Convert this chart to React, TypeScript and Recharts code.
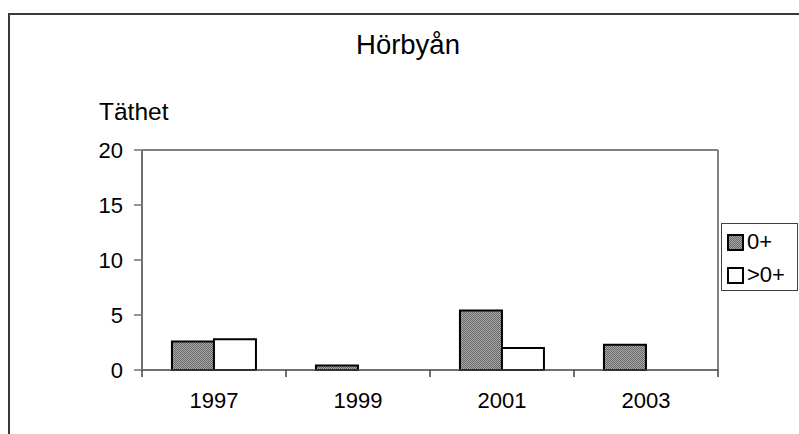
import React from 'react';
import { BarChart, Bar, XAxis, YAxis, ReferenceLine } from 'recharts';

const years = ['1997', '1999', '2001', '2003'];
const age0 = [2.6, 0.4, 5.4, 2.3];
const ageOlder = [2.8, 0, 2.0, 0];
const yTicks = [0, 5, 10, 15, 20];
const seriesNames = ['0+', '>0+'];
const title = 'Hörbyån';
const yLabel = 'Täthet';

const data = years.map((y, i) => ({ year: y, a: age0[i], b: ageOlder[i] }));

const FONT = "Arial, 'Liberation Sans', sans-serif";

const XTick = (props: any) => {
  const { x, y, payload, index, visibleTicksCount } = props;
  const off = payload && payload.offset ? payload.offset : 72;
  const last = index === (visibleTicksCount ?? years.length) - 1;
  return (
    <g>
      <line x1={x - off} x2={x - off} y1={y - 7} y2={y} stroke="#404040" strokeWidth={1.5} />
      {last && <line x1={x + off} x2={x + off} y1={y - 7} y2={y} stroke="#404040" strokeWidth={1.5} />}
      <text x={x} y={y + 31} textAnchor="middle" fontSize={22} fontFamily={FONT} fill="#000">
        {payload.value}
      </text>
    </g>
  );
};

const LegendBox = () => (
  <div
    style={{
      position: 'absolute',
      left: 721,
      top: 223,
      width: 77,
      height: 68,
      border: '1.5px solid #404040',
      background: '#fff',
      boxSizing: 'border-box',
      fontFamily: FONT,
      fontSize: 22,
    }}
  >
    {seriesNames.map((n, i) => (
      <div key={n} style={{ position: 'absolute', left: 5, top: 6 + i * 33, height: 24, display: 'flex', alignItems: 'center' }}>
        <svg width={17} height={17} style={{ marginRight: 3 }}>
          <rect x={1} y={1} width={15} height={15} fill={i === 0 ? 'url(#hatchLeg)' : '#fff'} stroke="#000" strokeWidth={2} />
        </svg>
        <span style={{ lineHeight: '24px' }}>{n}</span>
      </div>
    ))}
  </div>
);

export default function App() {
  return (
    <div style={{ position: 'absolute', left: 0, top: 0, width: 799, height: 434, overflow: 'hidden', background: '#fff' }}>
      <div style={{ position: 'absolute', left: 8, top: 13, width: 820, height: 500, border: '2px solid #3a3a3a' }} />
      <svg width={0} height={0} style={{ position: 'absolute' }}>
        <defs>
          <pattern id="hatchLeg" width="2" height="2" patternUnits="userSpaceOnUse">
            <rect width="2" height="2" fill="#a6a6a6" />
            <rect width="1" height="1" fill="#6a6a6a" />
            <rect x="1" y="1" width="1" height="1" fill="#6a6a6a" />
          </pattern>
        </defs>
      </svg>
      <svg width={799} height={434} style={{ position: 'absolute', left: 0, top: 0, pointerEvents: 'none' }}>
        <text x={408} y={54} textAnchor="middle" fontSize={27.5} fontFamily={FONT} fill="#000">{title}</text>
        <text x={99} y={120} fontSize={24.5} fontFamily={FONT} fill="#000">{yLabel}</text>
      </svg>
      <div style={{ position: 'absolute', left: 0, top: 0 }}>
        <BarChart
          width={799}
          height={434}
          data={data}
          margin={{ top: 150, right: 81, bottom: 0, left: 0 }}
          barCategoryGap="20.8%"
          barGap={0}
        >
          <defs>
            <pattern id="hatch" width="2" height="2" patternUnits="userSpaceOnUse">
              <rect width="2" height="2" fill="#a6a6a6" />
              <rect width="1" height="1" fill="#6a6a6a" />
              <rect x="1" y="1" width="1" height="1" fill="#6a6a6a" />
            </pattern>
          </defs>
          <ReferenceLine y={20} stroke="#808080" strokeWidth={2} />
          <ReferenceLine x={years[years.length - 1]} position="end" stroke="#808080" strokeWidth={2} />
          <XAxis
            dataKey="year"
            height={64}
            tickSize={7}
            tickMargin={0}
            tickLine={false}
            interval={0}
            tick={<XTick />}
            axisLine={{ stroke: '#404040', strokeWidth: 1.5 }}
          />
          <YAxis
            width={142}
            domain={[0, 20]}
            ticks={yTicks}
            tickSize={8}
            tickMargin={11}
            tickLine={{ stroke: '#707070', strokeWidth: 1.5 }}
            axisLine={{ stroke: '#707070', strokeWidth: 2 }}
            tick={{ fontSize: 22, fontFamily: FONT, fill: '#000' }}
          />
          <Bar dataKey="a" name={seriesNames[0]} fill="url(#hatch)" stroke="#000" strokeWidth={2} isAnimationActive={false} />
          <Bar dataKey="b" name={seriesNames[1]} fill="#ffffff" stroke="#000" strokeWidth={2} isAnimationActive={false} />
        </BarChart>
      </div>
      <LegendBox />
    </div>
  );
}
